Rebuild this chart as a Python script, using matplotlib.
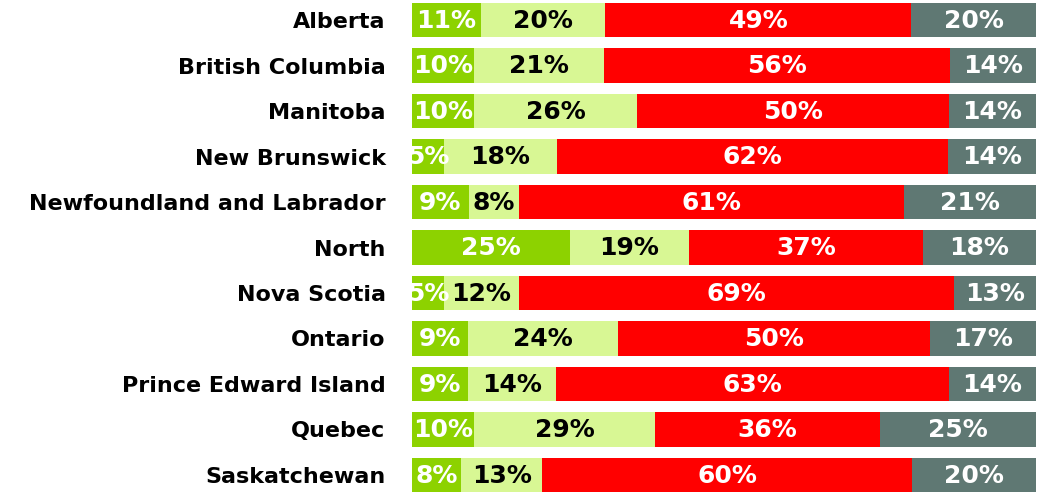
"""Stacked horizontal bars by province"""
import matplotlib.pyplot as plt

provinces = ["Alberta", "British Columbia", "Manitoba", "New Brunswick",
             "Newfoundland and Labrador", "North", "Nova Scotia", "Ontario",
             "Prince Edward Island", "Quebec", "Saskatchewan"]
seg1 = [11, 10, 10, 5, 9, 25, 5, 9, 9, 10, 8]
seg2 = [20, 21, 26, 18, 8, 19, 12, 24, 14, 29, 13]
seg3 = [49, 56, 50, 62, 61, 37, 69, 50, 63, 36, 60]
seg4 = [20, 14, 14, 14, 21, 18, 13, 17, 14, 25, 20]

colors = ["#8dd200", "#d8f794", "#ff0000", "#5f7873"]
text_colors = ["white", "black", "white", "white"]

plt.rcParams['font.family'] = ['DejaVu Sans']

fig = plt.figure(figsize=(10.53, 4.95), dpi=100)
ax = fig.add_axes([412 / 1053, 0, 624 / 1053, 1])

# rounded shares don't always sum to 100, bars are drawn full width
totals = [a + b + c + d for a, b, c, d in zip(seg1, seg2, seg3, seg4)]

y = list(range(len(provinces)))
left = [0] * len(provinces)
for series, color, tcolor in zip([seg1, seg2, seg3, seg4], colors, text_colors):
    widths = [v * 100 / t for v, t in zip(series, totals)]
    ax.barh(y, widths, left=left, height=0.75, color=color)
    for i, v in enumerate(series):
        ax.text(left[i] + widths[i] / 2, i + 0.02, f"{v}%", ha="center", va="center",
                color=tcolor, fontsize=18, fontweight="bold", clip_on=True,
                family=["DejaVu Sans Condensed", "DejaVu Sans"])
    left = [l + w for l, w in zip(left, widths)]

ax.set_xlim(0, 100)
ax.set_ylim(10.44, -0.44)
ax.set_yticks(y)
ax.set_yticklabels(provinces, fontsize=16, fontweight="bold")
ax.tick_params(axis="y", length=0, pad=19)
ax.set_xticks([])
for spine in ax.spines.values():
    spine.set_visible(False)

plt.savefig("out.png", dpi=100)
